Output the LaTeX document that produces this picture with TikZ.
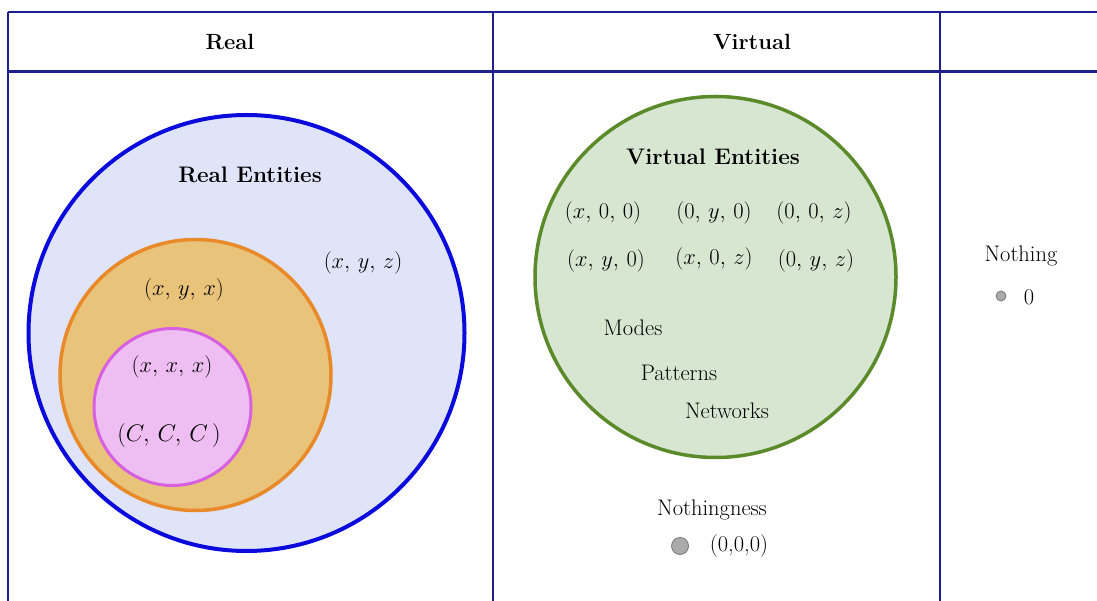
\RequirePackage{fix-cm}
\documentclass[tikz,border=0pt]{standalone}
\usepackage{amsmath}
\usepackage{fontspec}
\definecolor{gridline}{RGB}{30,30,140}
\definecolor{realfill}{RGB}{224,228,248}
\definecolor{realline}{RGB}{10,10,220}
\definecolor{mixfill}{RGB}{233,195,122}
\definecolor{mixline}{RGB}{232,137,42}
\definecolor{samefill}{RGB}{238,190,242}
\definecolor{sameline}{RGB}{214,96,224}
\definecolor{virtfill}{RGB}{214,230,208}
\definecolor{virtline}{RGB}{90,138,42}
\definecolor{dotfill}{RGB}{170,170,170}
\definecolor{dotline}{RGB}{120,120,120}
\tikzset{
  grid/.style={draw=gridline, line width=2.2pt},
  txt/.style={font=\fontsize{22.5}{26}\selectfont, inner sep=0pt, text=black},
  head/.style={font=\fontsize{22}{26}\selectfont\bfseries, inner sep=0pt},
  title/.style={font=\fontsize{22.5}{26}\selectfont\bfseries, inner sep=0pt, text=black},
  set/.style={circle, inner sep=0pt, outer sep=0pt},
  dot/.style={circle, fill=dotfill, draw=dotline, line width=0.8pt, inner sep=0pt},
}
\begin{document}
\begin{tikzpicture}[x=1pt, y=-1pt]
\useasboundingbox (0,0) rectangle (1097,601);
% table frame
\coordinate (tl) at (8,12);
\coordinate (tr) at (1097,12);
\coordinate (hl) at (8,72);
\coordinate (hr) at (1097,72);
\coordinate (bl) at (8,601);
\coordinate (c1t) at (493,12);
\coordinate (c1b) at (493,601);
\coordinate (c2t) at (940,12);
\coordinate (c2b) at (940,601);
\draw[grid] (tl) -- (tr);
\draw[grid, line width=3pt] (hl) -- (hr);
\draw[grid] (tl) -- (bl);
\draw[grid] (c1t) -- (c1b);
\draw[grid] (c2t) -- (c2b);
\node[head] (hreal) at (230,42) {Real};
\node[head] (hvirt) at (752,42) {Virtual};

% real entities
\node[set, minimum size=436pt, fill=realfill, draw=realline, line width=4pt] (real) at (246.5,333) {};
\node[set, minimum size=271pt, fill=mixfill, draw=mixline, line width=3.5pt] (mix) at (195.5,375) {};
\node[set, minimum size=157pt, fill=samefill, draw=sameline, line width=3pt] (same) at (172.5,407) {};
\node[title] (realt) at (250,175) {Real Entities};
\node[txt] (xyz) at (363,263) {$(x,\,y,\,z)$};
\node[txt] (xyx) at (184,290) {$(x,\,y,\,x)$};
\node[txt] (xxx) at (172,367) {$(x,\,x,\,x)$};
\node[txt, font=\fontsize{24}{28}\selectfont] (ccc) at (169,435) {$(C,\,C,\,C\,)$};

% virtual entities
\node[set, minimum size=361pt, fill=virtfill, draw=virtline, line width=3.5pt] (virt) at (715.5,277) {};
\node[title] (virtt) at (713,157) {Virtual Entities};
\node[txt] (x00) at (603,213) {$(x,\,0,\,0)$};
\node[txt] (y0) at (714,213) {$(0,\,y,\,0)$};
\node[txt] (z0) at (814,213) {$(0,\,0,\,z)$};
\node[txt] (xy0) at (606,261) {$(x,\,y,\,0)$};
\node[txt] (x0z) at (714,259) {$(x,\,0,\,z)$};
\node[txt] (0yz) at (816,261) {$(0,\,y,\,z)$};
\node[txt] (modes) at (633,328) {Modes};
\node[txt] (patt) at (679,373) {Patterns};
\node[txt] (netw) at (727,411) {Networks};

% nothingness
\node[txt] (nness) at (712,510) {Nothingness};
\node[dot, minimum size=17pt] (nndot) at (680,546) {};
\node[txt] (zeros) at (739,546) {(0,0,0)};

% nothing
\node[txt] (nothing) at (1021,256) {Nothing};
\node[dot, minimum size=10pt] (ndot) at (1001,296) {};
\node[txt] (zero) at (1029,297) {0};
\end{tikzpicture}
\end{document}
